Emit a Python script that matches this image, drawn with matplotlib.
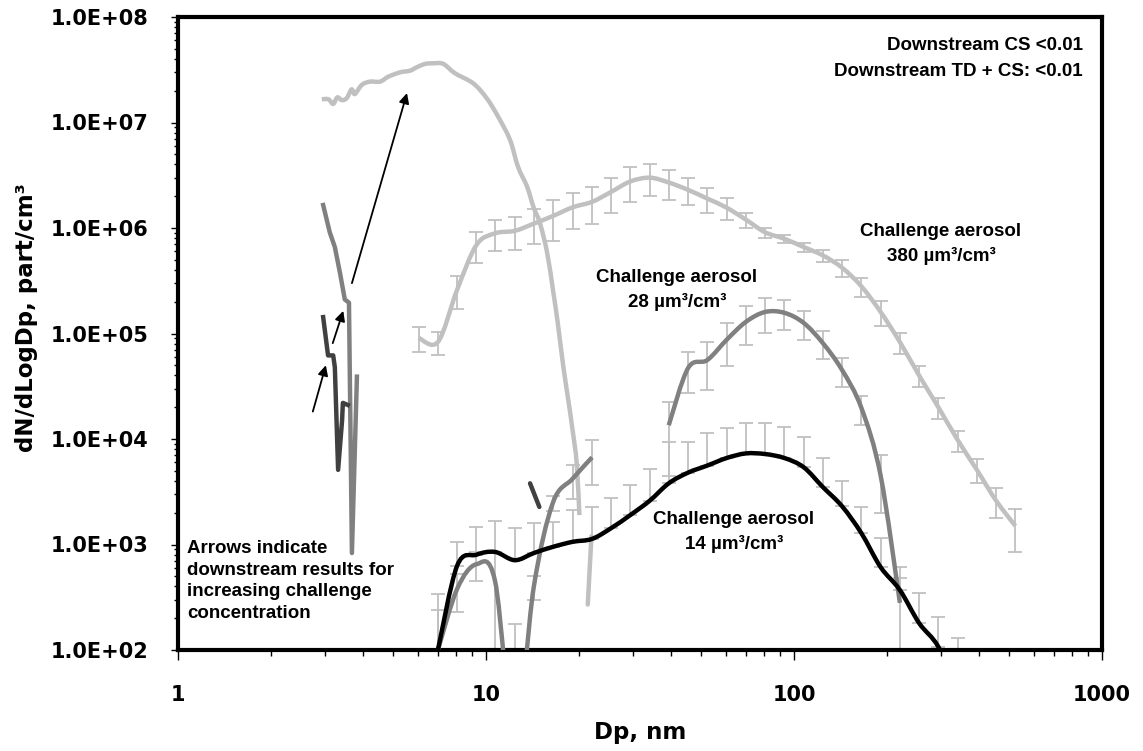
import numpy as np
import matplotlib
matplotlib.use('Agg')
import matplotlib.pyplot as plt
from matplotlib.path import Path
from matplotlib.patches import PathPatch
from matplotlib.ticker import LogLocator, FixedLocator, FixedFormatter, NullFormatter

plt.rcParams['font.family'] = ['Liberation Sans', 'DejaVu Sans']
plt.rcParams['font.weight'] = 'bold'

W, H = 1143, 751

# SMPS bin mid diameters, nm
bins = [6.04, 6.98, 8.06, 9.31, 10.7, 12.4, 14.3, 16.5, 19.1, 22.1, 25.5, 29.4, 34.0,
        39.2, 45.3, 52.3, 60.4, 69.8, 80.6, 93.1, 107.5, 124.1, 143.3, 165.5, 191.1,
        220.7, 254.8, 294.3, 339.8, 392.4, 453.2, 523.3]

# challenge aerosol 380 um3/cm3 (light gray, error bars both ways)
c380 = [9.1e4, 8.3e4, 2.6e5, 6.9e5, 8.9e5, 9.4e5, 1.1e6, 1.3e6, 1.57e6, 1.77e6, 2.2e6,
        2.76e6, 3.0e6, 2.7e6, 2.3e6, 1.9e6, 1.56e6, 1.2e6, 9.1e5, 7.9e5, 6.6e5, 5.5e5,
        4.2e5, 2.8e5, 1.6e5, 8.3e4, 4.0e4, 2.0e4, 9.8e3, 5.1e3, 2.6e3, 1.5e3]
c380_err = [2.4e4, 2.0e4, 9e4, 2.2e5, 2.9e5, 3.2e5, 4e5, 5.4e5, 6e5, 6.7e5, 8e5, 1e6, 1e6,
            8.5e5, 6.5e5, 5e5, 3.7e5, 1.9e5, 1e5, 7e4, 6.6e4, 7.5e4, 7.5e4, 5.6e4, 4.3e4,
            1.9e4, 9e3, 4.5e3, 2.2e3, 1.3e3, 8e2, 6.5e2]

# challenge aerosol 28 um3/cm3 (medium gray)
x28 = bins[13:26]
c28 = [1.35e4, 4.7e4, 5.6e4, 8.7e4, 1.29e5, 1.6e5, 1.57e5, 1.26e5, 8.1e4, 4.5e4, 1.97e4,
       4.5e3, 2.8e2]
c28_err = [9e3, 2e4, 2.7e4, 3.8e4, 5.2e4, 5.8e4, 5e4, 3.9e4, 2.4e4, 1.4e4, 6e3, 2.5e3, 2.0e2]

# challenge aerosol 14 um3/cm3 (black, plus error bars only)
x14 = bins[1:29]
c14 = [1.0e2, 6.3e2, 8.0e2, 8.5e2, 7.1e2, 8.3e2, 9.5e2, 1.06e3, 1.13e3, 1.43e3, 1.9e3,
       2.6e3, 3.8e3, 4.8e3, 5.6e3, 6.6e3, 7.3e3, 7.2e3, 6.6e3, 5.4e3, 3.5e3, 2.3e3, 1.28e3,
       6.1e2, 3.7e2, 1.8e2, 1.07e2, 4.0e1]
c14_err = [2.4e2, 4.3e2, 6.7e2, 8.2e2, 7.2e2, 7.7e2, 6.8e2, 1.06e3, 1.14e3, 1.33e3, 1.77e3,
           2.6e3, 5.6e3, 4.6e3, 5.8e3, 6.1e3, 6.9e3, 7e3, 6.4e3, 5.1e3, 3.1e3, 1.7e3, 1.0e3,
           5.4e2, 2.4e2, 1.7e2, 1.0e2, 9e1]

# low medium-gray series (small diameters)
xlow = bins[1:10]
low = [1.0e2, 3.8e2, 6.5e2, 4.5e2, 1.5e1, 4.0e2, 2.5e3, 4.2e3, 6.7e3]
low_err = [1.4e2, 1.5e2, 2.0e2, 4.0e2, 1.6e2, 1.0e2, 4e2, 1.5e3, 3.0e3]

# high concentration light gray curve (no error bars)
xhigh = [2.93, 3.08, 3.19, 3.29, 3.40, 3.53, 3.66, 3.75, 3.95, 4.20, 4.53, 4.82, 5.26, 5.67,
         5.96, 6.34, 6.74, 7.27, 7.93, 9.09, 10.05, 10.96, 11.97, 12.7, 13.6, 14.25, 14.97,
         15.8, 16.5, 17.1, 17.8, 18.5, 19.1, 19.7, 20.1]
high = [1.66e7, 1.66e7, 1.50e7, 1.73e7, 1.63e7, 1.70e7, 2.06e7, 1.86e7, 2.27e7, 2.44e7,
        2.44e7, 2.72e7, 2.99e7, 3.10e7, 3.34e7, 3.59e7, 3.64e7, 3.59e7, 2.93e7, 2.35e7,
        1.70e7, 1.13e7, 6.83e6, 3.81e6, 2.46e6, 1.59e6, 1.11e6, 5.8e5, 2.58e5, 1.26e5,
        5.0e4, 2.34e4, 1.22e4, 5.9e3, 1.9e3]
xhigh_b = [22.0, 21.4]
high_b = [1.2e3, 2.7e2]

# downstream results (left)
xdn_mid = [2.96, 3.11, 3.23, 3.36, 3.48, 3.59, 3.67, 3.81]
dn_mid = [1.65e6, 9.1e5, 6.6e5, 3.7e5, 2.1e5, 1.96e5, 8.3e2, 3.9e4]
xdn_dark = [2.96, 3.07, 3.19, 3.23, 3.31, 3.41, 3.43, 3.56]
dn_dark = [1.43e5, 6.2e4, 6.2e4, 4.8e4, 5.1e3, 1.5e4, 2.2e4, 2.1e4]
xdn_dark_b = [13.9, 14.9]
dn_dark_b = [3.8e3, 2.27e3]

LIGHT = '#c0c0c0'
MID = '#808080'
DARK = '#404040'
WIDE = ['DejaVu Sans']


def smooth_line(ax, xs, ys, color, lw, zorder):
    # Excel-like smoothed line: cubic Bezier segments through the points (log-log space)
    p = np.column_stack([np.log10(xs), np.log10(ys)])
    n = len(p)
    ext = np.vstack([p[0], p, p[-1]])
    verts = [p[0]]
    codes = [Path.MOVETO]
    for i in range(n - 1):
        c1 = ext[i + 1] + (ext[i + 2] - ext[i]) / 6.0
        c2 = ext[i + 2] - (ext[i + 3] - ext[i + 1]) / 6.0
        verts += [c1, c2, p[i + 1]]
        codes += [Path.CURVE4] * 3
    verts = 10 ** np.array(verts)
    patch = PathPatch(Path(verts, codes), fill=False, edgecolor=color, lw=lw,
                      zorder=zorder, joinstyle='round', capstyle='butt')
    ax.add_patch(patch)


fig = plt.figure(figsize=(W / 100, H / 100), dpi=100)
ax = fig.add_axes([178 / W, 1 - 650 / H, (1102 - 178) / W, (650 - 17) / H])
ax.set_xscale('log')
ax.set_yscale('log')
ax.set_xlim(1, 1000)
ax.set_ylim(1e2, 1e8)

lw = 3.2
ebk = dict(ecolor=LIGHT, elinewidth=1.3, capsize=5, capthick=1.3, zorder=2)

ax.errorbar(bins, c380, yerr=c380_err, fmt='none', **ebk)
ax.errorbar(x28, c28, yerr=c28_err, fmt='none', **ebk)
ax.errorbar(xlow, low, yerr=low_err, fmt='none', **ebk)
ax.errorbar(x14, c14, yerr=[[0] * len(c14_err), c14_err], fmt='none', **ebk)

smooth_line(ax, bins, c380, LIGHT, lw, 3)
smooth_line(ax, xhigh, high, LIGHT, lw, 3)
ax.plot(xhigh_b, high_b, color=LIGHT, lw=lw, zorder=3, solid_capstyle='round')
smooth_line(ax, x28, c28, MID, lw, 4)
smooth_line(ax, xlow, low, MID, lw, 4)
ax.plot(xdn_mid, dn_mid, color=MID, lw=lw, zorder=4, solid_joinstyle='round')
ax.plot(xdn_dark, dn_dark, color=DARK, lw=lw, zorder=5, solid_joinstyle='round')
ax.plot(xdn_dark_b, dn_dark_b, color=DARK, lw=lw, zorder=5, solid_capstyle='round')
smooth_line(ax, x14, c14, 'black', lw, 6)

# arrows
arrows = [((3.67, 3.0e5), (5.54, 1.9e7)),
          ((3.18, 8.1e4), (3.44, 1.64e5)),
          ((2.74, 1.82e4), (3.02, 5.0e4))]
for tail, head in arrows:
    ax.annotate('', xy=head, xytext=tail,
                arrowprops=dict(arrowstyle='-|>', color='black', lw=1.3,
                                mutation_scale=15, shrinkA=0, shrinkB=0), zorder=7)

for s in ax.spines.values():
    s.set_linewidth(3)
    s.set_color('black')

ax.xaxis.set_major_locator(FixedLocator([1, 10, 100, 1000]))
ax.xaxis.set_major_formatter(FixedFormatter(['1', '10', '100', '1000']))
ax.xaxis.set_minor_locator(LogLocator(base=10, subs=range(2, 10)))
ax.xaxis.set_minor_formatter(NullFormatter())
ax.yaxis.set_major_locator(FixedLocator([1e2, 1e3, 1e4, 1e5, 1e6, 1e7, 1e8]))
ax.yaxis.set_major_formatter(FixedFormatter(['1.0E+02', '1.0E+03', '1.0E+04', '1.0E+05',
                                             '1.0E+06', '1.0E+07', '1.0E+08']))
ax.yaxis.set_minor_locator(LogLocator(base=10, subs=range(2, 10)))
ax.yaxis.set_minor_formatter(NullFormatter())
ax.tick_params(axis='x', which='major', direction='out', length=7, width=1, pad=18,
               labelsize=15)
ax.tick_params(axis='x', which='minor', direction='out', length=4, width=1)
ax.tick_params(axis='y', which='major', direction='out', length=5, width=1, pad=16,
               labelsize=15)
ax.tick_params(axis='y', which='minor', direction='out', length=3, width=1)
for lab in ax.get_xticklabels() + ax.get_yticklabels():
    lab.set_fontweight('bold')
    lab.set_family(WIDE)

fig.text(640 / W, 1 - 733 / H, 'Dp, nm', ha='center', va='center', fontsize=16.5,
         fontweight='bold', family=WIDE)
fig.text(27 / W, 1 - 318 / H, 'dN/dLogDp, part/cm³', ha='center', va='center',
         rotation=90, fontsize=16.5, fontweight='bold', family=WIDE)

fs = 13.5
fig.text(1083 / W, 1 - 45 / H, 'Downstream CS <0.01', ha='right', va='center', fontsize=fs)
fig.text(1083 / W, 1 - 71 / H, 'Downstream TD + CS: <0.01', ha='right', va='center',
         fontsize=fs)
fig.text(941 / W, 1 - 244 / H, 'Challenge aerosol\n380 µm³/cm³', ha='center', va='center',
         fontsize=fs, linespacing=1.5)
fig.text(677 / W, 1 - 290 / H, 'Challenge aerosol\n28 µm³/cm³', ha='center', va='center',
         fontsize=fs, linespacing=1.5)
fig.text(734 / W, 1 - 532 / H, 'Challenge aerosol\n14 µm³/cm³', ha='center', va='center',
         fontsize=fs, linespacing=1.5)
fig.text(187 / W, 1 - 581 / H,
         'Arrows indicate\ndownstream results for\nincreasing challenge\nconcentration',
         ha='left', va='center', fontsize=fs, linespacing=1.35)

fig.savefig('out.png', dpi=100)
